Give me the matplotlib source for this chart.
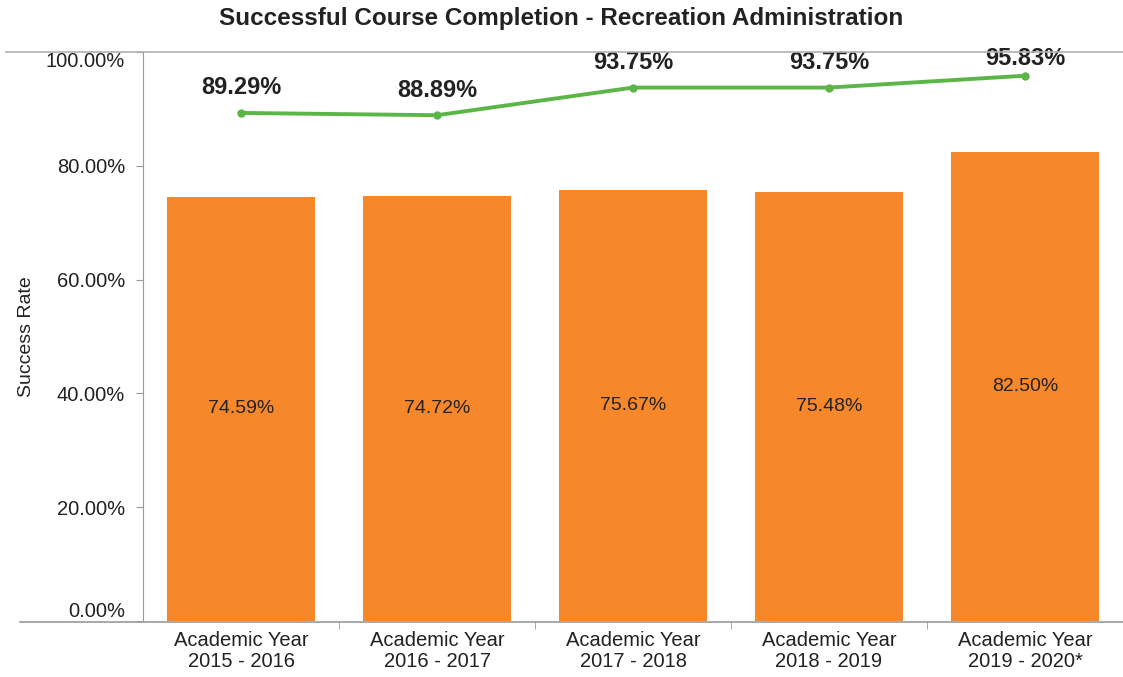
import matplotlib.pyplot as plt
from matplotlib.lines import Line2D

plt.rcParams['font.family'] = ['Liberation Sans', 'DejaVu Sans']

# Course completion data
years = ['Academic Year\n2015 - 2016', 'Academic Year\n2016 - 2017',
         'Academic Year\n2017 - 2018', 'Academic Year\n2018 - 2019',
         'Academic Year\n2019 - 2020*']
success_rate = [74.59, 74.72, 75.67, 75.48, 82.50]
program_rate = [89.29, 88.89, 93.75, 93.75, 95.83]
y_ticks = [0, 20, 40, 60, 80, 100]

ORANGE = '#F7872B'
GREEN = '#5CB547'
TEXT = '#222222'
AXIS = '#9A9A9A'

fig = plt.figure(figsize=(11.23, 6.77), dpi=100)
ax = fig.add_axes([143 / 1123, 1 - 621 / 677, 1 - 143 / 1123, (621 - 52) / 677])

x = list(range(len(years)))
ax.bar(x, success_rate, width=0.76, color=ORANGE, zorder=2)
for xi, v in zip(x, success_rate):
    ax.text(xi, v / 2, f'{v:.2f}%', ha='center', va='center',
            fontsize=14, color=TEXT)

ax.plot(x, program_rate, color=GREEN, lw=2.8, marker='o', ms=5, zorder=3)
for xi, v in zip(x, program_rate):
    ax.text(xi, min(v + 4.4, 98.8), f'{v:.2f}%', ha='center', va='center',
            fontsize=17, fontweight='bold', color=TEXT)

ax.set_xlim(-0.5, len(years) - 0.5)
ax.set_ylim(0, 100)
ax.set_yticks(y_ticks)
ax.set_yticklabels([f'{t:.2f}%' for t in y_ticks], fontsize=14.5, color=TEXT)
ax.tick_params(axis='y', length=5, color=AXIS, pad=8)
# keep the end labels clear of the horizontal rules
ylabels = ax.get_yticklabels()
ylabels[0].set_va('bottom')
ylabels[-1].set_va('top')

# category labels centred, tick marks on category boundaries
ax.set_xticks(x)
ax.set_xticklabels(years, fontsize=14.5, color=TEXT, linespacing=1.15)
ax.tick_params(axis='x', length=0, pad=7)
ax.set_xticks([i + 0.5 for i in x[:-1]], minor=True)
ax.tick_params(axis='x', which='minor', length=6, color=AXIS)

for side in ['top', 'right', 'bottom']:
    ax.spines[side].set_visible(False)
ax.spines['left'].set_color(AXIS)

# horizontal rules across the full width of the chart
fig.add_artist(Line2D([0.005, 1.0], [1 - 52 / 677] * 2, color='#B0B0B0', lw=1.2))
fig.add_artist(Line2D([0.018, 1.0], [1 - 622 / 677] * 2, color=AXIS, lw=1.2))

ax.set_ylabel('Success Rate', fontsize=14, color=TEXT, labelpad=8)
fig.text(0.5, 1 - 18 / 677, 'Successful Course Completion - Recreation Administration',
         ha='center', va='center', fontsize=17.5, fontweight='bold', color=TEXT)

fig.savefig('out.png', dpi=100, facecolor='white')
